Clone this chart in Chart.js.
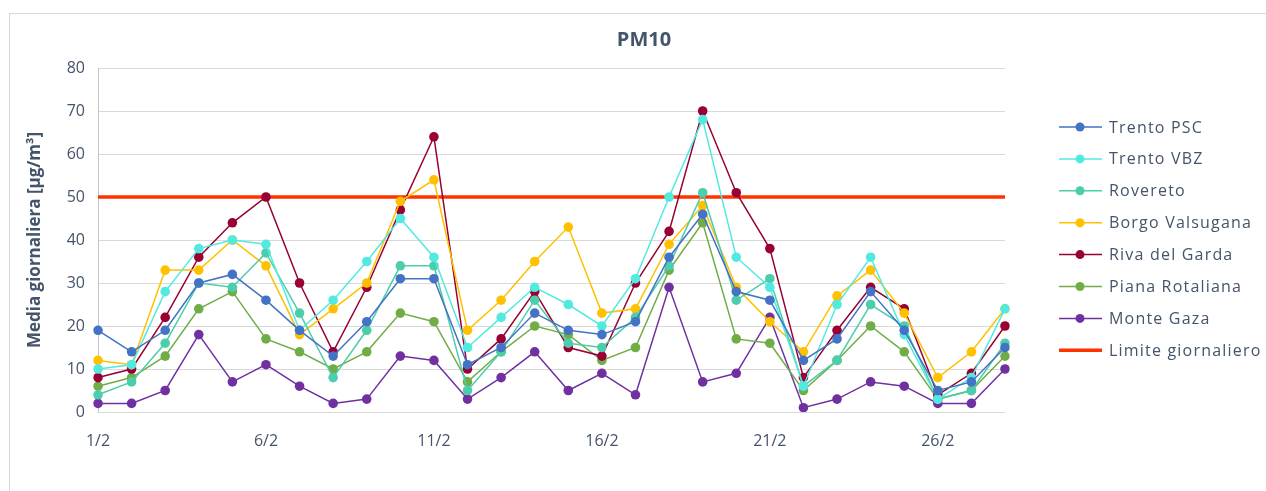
<!DOCTYPE html>
<html>
<head>
<meta charset="utf-8">
<script src="https://cdn.jsdelivr.net/npm/chart.js@4/dist/chart.umd.min.js"></script>
<style>
  html, body { margin: 0; padding: 0; background: #fff; overflow: hidden; }
  #box {
    position: absolute; left: 9px; top: 13px; width: 1268px; height: 490px;
    border-left: 1px solid #D9D9D9; border-top: 1px solid #D9D9D9;
  }
  canvas { display: block; }
</style>
</head>
<body>
<div id="box"><canvas id="chart" width="1268" height="477"></canvas></div>
<script>
// Data (days of February)
const days = ["1/2","2/2","3/2","4/2","5/2","6/2","7/2","8/2","9/2","10/2","11/2","12/2","13/2","14/2",
              "15/2","16/2","17/2","18/2","19/2","20/2","21/2","22/2","23/2","24/2","25/2","26/2","27/2","28/2"];

const trentoPSC  = [19,14,19,30,32,26,19,13,21,31,31,11,15,23,19,18,21,36,46,28,26,12,17,28,19,5,7,15];
const trentoVBZ  = [10,11,28,38,40,39,19,26,35,45,36,15,22,29,25,20,31,50,68,36,29,6,25,36,18,3,8,24];
const rovereto   = [4,7,16,30,29,37,23,8,19,34,34,5,14,26,16,15,22,34,51,26,31,6,12,25,20,3,5,16];
const borgo      = [12,11,33,33,40,34,18,24,30,49,54,19,26,35,43,23,24,39,48,29,21,14,27,33,23,8,14,24];
const riva       = [8,10,22,36,44,50,30,14,29,47,64,10,17,28,15,13,30,42,70,51,38,8,19,29,24,4,9,20];
const piana      = [6,8,13,24,28,17,14,10,14,23,21,7,14,20,18,12,15,33,44,17,16,5,12,20,14,3,5,13];
const monteGaza  = [2,2,5,18,7,11,6,2,3,13,12,3,8,14,5,9,4,29,7,9,22,1,3,7,6,2,2,10];
const limite     = [50,50,50,50,50,50,50,50,50,50,50,50,50,50,50,50,50,50,50,50,50,50,50,50,50,50,50,50];

const yTicks = [0, 10, 20, 30, 40, 50, 60, 70, 80];

const textColor = "#44546A";
const font = "'Open Sans', 'DejaVu Sans', sans-serif";

const station = (label, data, color) => ({
  label, data,
  borderColor: color, backgroundColor: color,
  borderWidth: 1.5, pointRadius: 4.8, pointHoverRadius: 4.8,
  pointBorderWidth: 0, tension: 0, yAxisID: "y"
});

// Legend drawn at a fixed spot on the right, like the original
const sideLegend = {
  id: "sideLegend",
  afterDraw(chart) {
    const ctx = chart.ctx;
    ctx.save();
    ctx.font = "16px " + font;
    ctx.textBaseline = "middle";
    chart.data.datasets.forEach((ds, i) => {
      const y = 113 + i * 31.9;
      ctx.strokeStyle = ds.borderColor;
      ctx.lineWidth = ds.borderWidth;
      ctx.beginPath();
      ctx.moveTo(1049, y);
      ctx.lineTo(1092, y);
      ctx.stroke();
      if (ds.pointRadius > 0) {
        ctx.fillStyle = ds.backgroundColor;
        ctx.beginPath();
        ctx.arc(1070, y, 4.5, 0, Math.PI * 2);
        ctx.fill();
      }
      ctx.fillStyle = textColor;
      ctx.letterSpacing = "1.2px";
      ctx.fillText(ds.label, 1099, y + 1);
      ctx.letterSpacing = "0px";
    });
    ctx.restore();
  }
};

new Chart(document.getElementById("chart"), {
  type: "line",
  data: {
    labels: days,
    datasets: [
      station("Trento PSC", trentoPSC, "#4472C4"),
      station("Trento VBZ", trentoVBZ, "#52EAE0"),
      station("Rovereto", rovereto, "#4CCDAB"),
      station("Borgo Valsugana", borgo, "#FFC000"),
      station("Riva del Garda", riva, "#990033"),
      station("Piana Rotaliana", piana, "#70AD47"),
      station("Monte Gaza", monteGaza, "#7030A0"),
      {
        label: "Limite giornaliero", data: limite, yAxisID: "y",
        borderColor: "#FF3300", backgroundColor: "#FF3300",
        borderWidth: 3.5, pointRadius: 0, tension: 0
      }
    ]
  },
  options: {
    responsive: false,
    animation: false,
    layout: { padding: { left: 0, right: 0, top: 0, bottom: 29 } },
    plugins: {
      legend: { display: false },
      tooltip: { enabled: false },
      title: {
        display: true, text: "PM10", color: textColor,
        font: { family: font, size: 20, weight: "bold" },
        padding: { top: 14, bottom: 16 }
      }
    },
    scales: {
      x: {
        grid: { display: false, drawTicks: false },
        border: { display: false },
        afterFit: (s) => { s.height = 50; },
        ticks: {
          autoSkip: false, maxRotation: 0, padding: 20, color: textColor,
          font: { family: font, size: 16 },
          callback: (v, i) => (i % 5 === 0 ? days[i] : "")
        }
      },
      y: {
        min: 0, max: 80,
        afterFit: (s) => { s.width = 88; },
        afterBuildTicks: (s) => { s.ticks = yTicks.map(v => ({ value: v })); },
        grid: { color: "#D9D9D9", drawTicks: false },
        border: { color: "#BFC5D0" },
        ticks: { padding: 13, color: textColor, font: { family: font, size: 16 } },
        title: {
          display: true, text: "Media giornaliera [µg/m³]", color: textColor,
          font: { family: font, size: 17, weight: "bold" },
          padding: { top: 15, bottom: 0 }
        }
      },
      // empty box on the right that leaves room for the legend
      side: {
        position: "right", min: 0, max: 80,
        afterFit: (s) => { s.width = 273; },
        grid: { display: false, drawTicks: false },
        border: { display: false },
        ticks: { display: false }
      }
    }
  },
  plugins: [sideLegend]
});
</script>
</body>
</html>
